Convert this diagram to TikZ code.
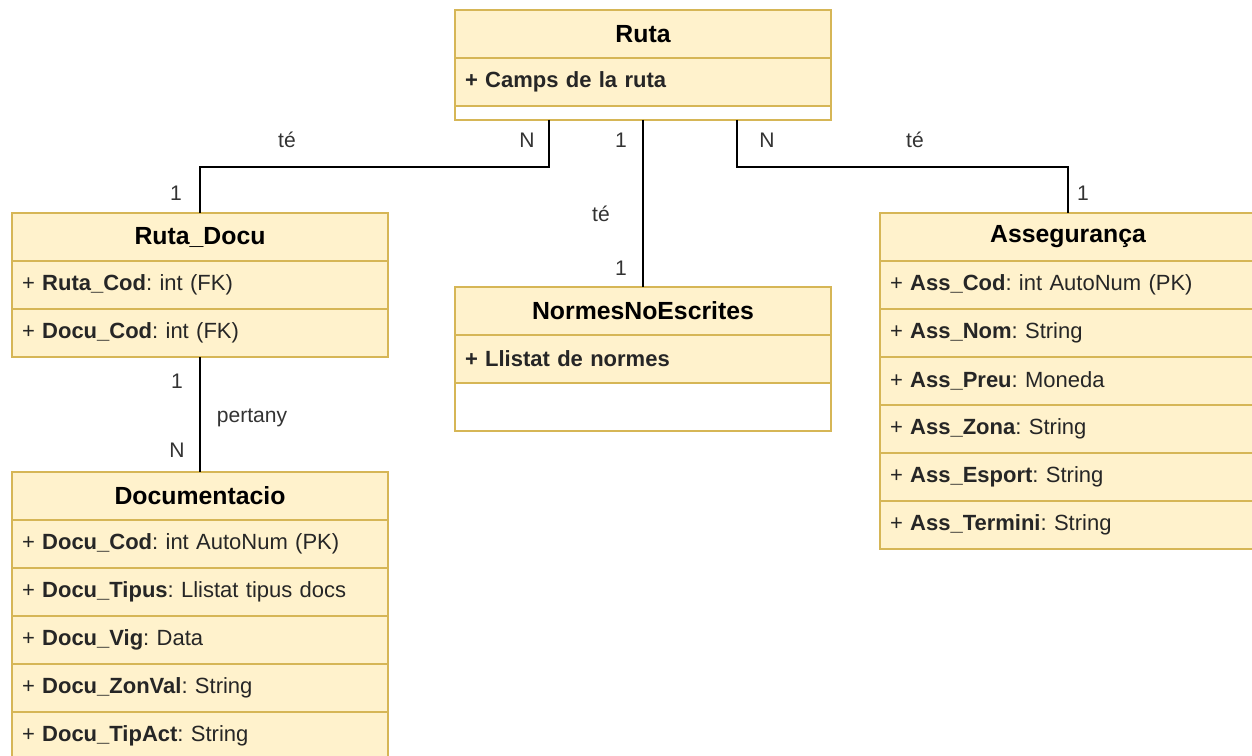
\documentclass[tikz,border=0pt]{standalone}
\usepackage{fontspec}
\setmainfont{Liberation Sans}
\usetikzlibrary{calc}
\definecolor{umlfill}{HTML}{FFF2CC}
\definecolor{umlborder}{HTML}{D6B656}
\definecolor{labgray}{HTML}{333333}
\newcommand\umltitle{\fontsize{18.6}{22}\selectfont\bfseries}
\newcommand\umlattr{\fontsize{16.5}{20}\selectfont\frenchspacing}
\newcommand\umllab{\fontsize{15.8}{19}\selectfont}
\tikzset{
  box/.style={draw=umlborder, line width=1.1pt, fill=umlfill, anchor=north west,
    minimum width=282pt, minimum height=36pt, inner ysep=0pt, outer sep=0pt},
  hdr/.style={box, inner xsep=0pt, align=center, font=\umltitle},
  attr/.style={box, text width=267pt, inner xsep=7.5pt, align=left, font=\umlattr, text=black!85},
  blank/.style={box, fill=white},
  conn/.style={draw=black, line width=1.1pt},
  lab/.style={font=\umllab, text=labgray, inner sep=0pt}
}
\begin{document}
\begin{tikzpicture}[x=0.75pt, y=-0.75pt]
\useasboundingbox (0,0) rectangle (1252,756);
\clip (0,0) rectangle (1252,756);

% Ruta
\node[hdr] (rh) at (455,10) {Ruta};
\node[attr] (r1) at (455,58) {\textbf{+ Camps de la ruta}};
\node[blank, minimum height=10.5pt] (r2) at (455,106) {};

% Ruta_Docu
\node[hdr] (dh) at (12,213) {Ruta\_Docu};
\node[attr] (d1) at (12,261) {+ \textbf{Ruta\_Cod}: int (FK)};
\node[attr] (d2) at (12,309) {+ \textbf{Docu\_Cod}: int (FK)};

% NormesNoEscrites
\node[hdr] (nh) at (455,287) {NormesNoEscrites};
\node[attr] (n1) at (455,335) {\textbf{+ Llistat de normes}};
\node[blank] (n2) at (455,383) {};

% Assegurança
\node[hdr] (ah) at (880,213) {Assegurança};
\node[attr] (a1) at (880,261) {+ \textbf{Ass\_Cod}: int AutoNum (PK)};
\node[attr] (a2) at (880,309) {+ \textbf{Ass\_Nom}: String};
\node[attr] (a3) at (880,357) {+ \textbf{Ass\_Preu}: Moneda};
\node[attr] (a4) at (880,405) {+ \textbf{Ass\_Zona}: String};
\node[attr] (a5) at (880,453) {+ \textbf{Ass\_Esport}: String};
\node[attr] (a6) at (880,501) {+ \textbf{Ass\_Termini}: String};

% Documentacio
\node[hdr] (ch) at (12,472) {Documentacio};
\node[attr] (c1) at (12,520) {+ \textbf{Docu\_Cod}: int AutoNum (PK)};
\node[attr] (c2) at (12,568) {+ \textbf{Docu\_Tipus}: Llistat tipus docs};
\node[attr] (c3) at (12,616) {+ \textbf{Docu\_Vig}: Data};
\node[attr] (c4) at (12,664) {+ \textbf{Docu\_ZonVal}: String};
\node[attr] (c5) at (12,712) {+ \textbf{Docu\_TipAct}: String};

% connectors
\coordinate (rA) at ($(r2.south west)!0.25!(r2.south east)$);
\coordinate (rB) at ($(r2.south west)!0.5!(r2.south east)$);
\coordinate (rC) at ($(r2.south west)!0.75!(r2.south east)$);
\draw[conn] (rA) -- ++(0,47) -| (dh.north);
\draw[conn] (rB) -- (nh.north);
\draw[conn] (rC) -- ++(0,47) -| (ah.north);
\draw[conn] (d2.south) -- (ch.north);

% labels
\node[lab] (l1) at (287,140) {té};
\node[lab] (l2) at (527,140) {N};
\node[lab] (l3) at (176,193) {1};
\node[lab] (l4) at (621,140) {1};
\node[lab] (l5) at (601,214) {té};
\node[lab] (l6) at (621,268) {1};
\node[lab] (l7) at (767,140) {N};
\node[lab] (l8) at (915,140) {té};
\node[lab] (l9) at (1083,193) {1};
\node[lab] (l10) at (177,381) {1};
\node[lab] (l11) at (252,418) {pertany};
\node[lab] (l12) at (177,450) {N};
\end{tikzpicture}
\end{document}
